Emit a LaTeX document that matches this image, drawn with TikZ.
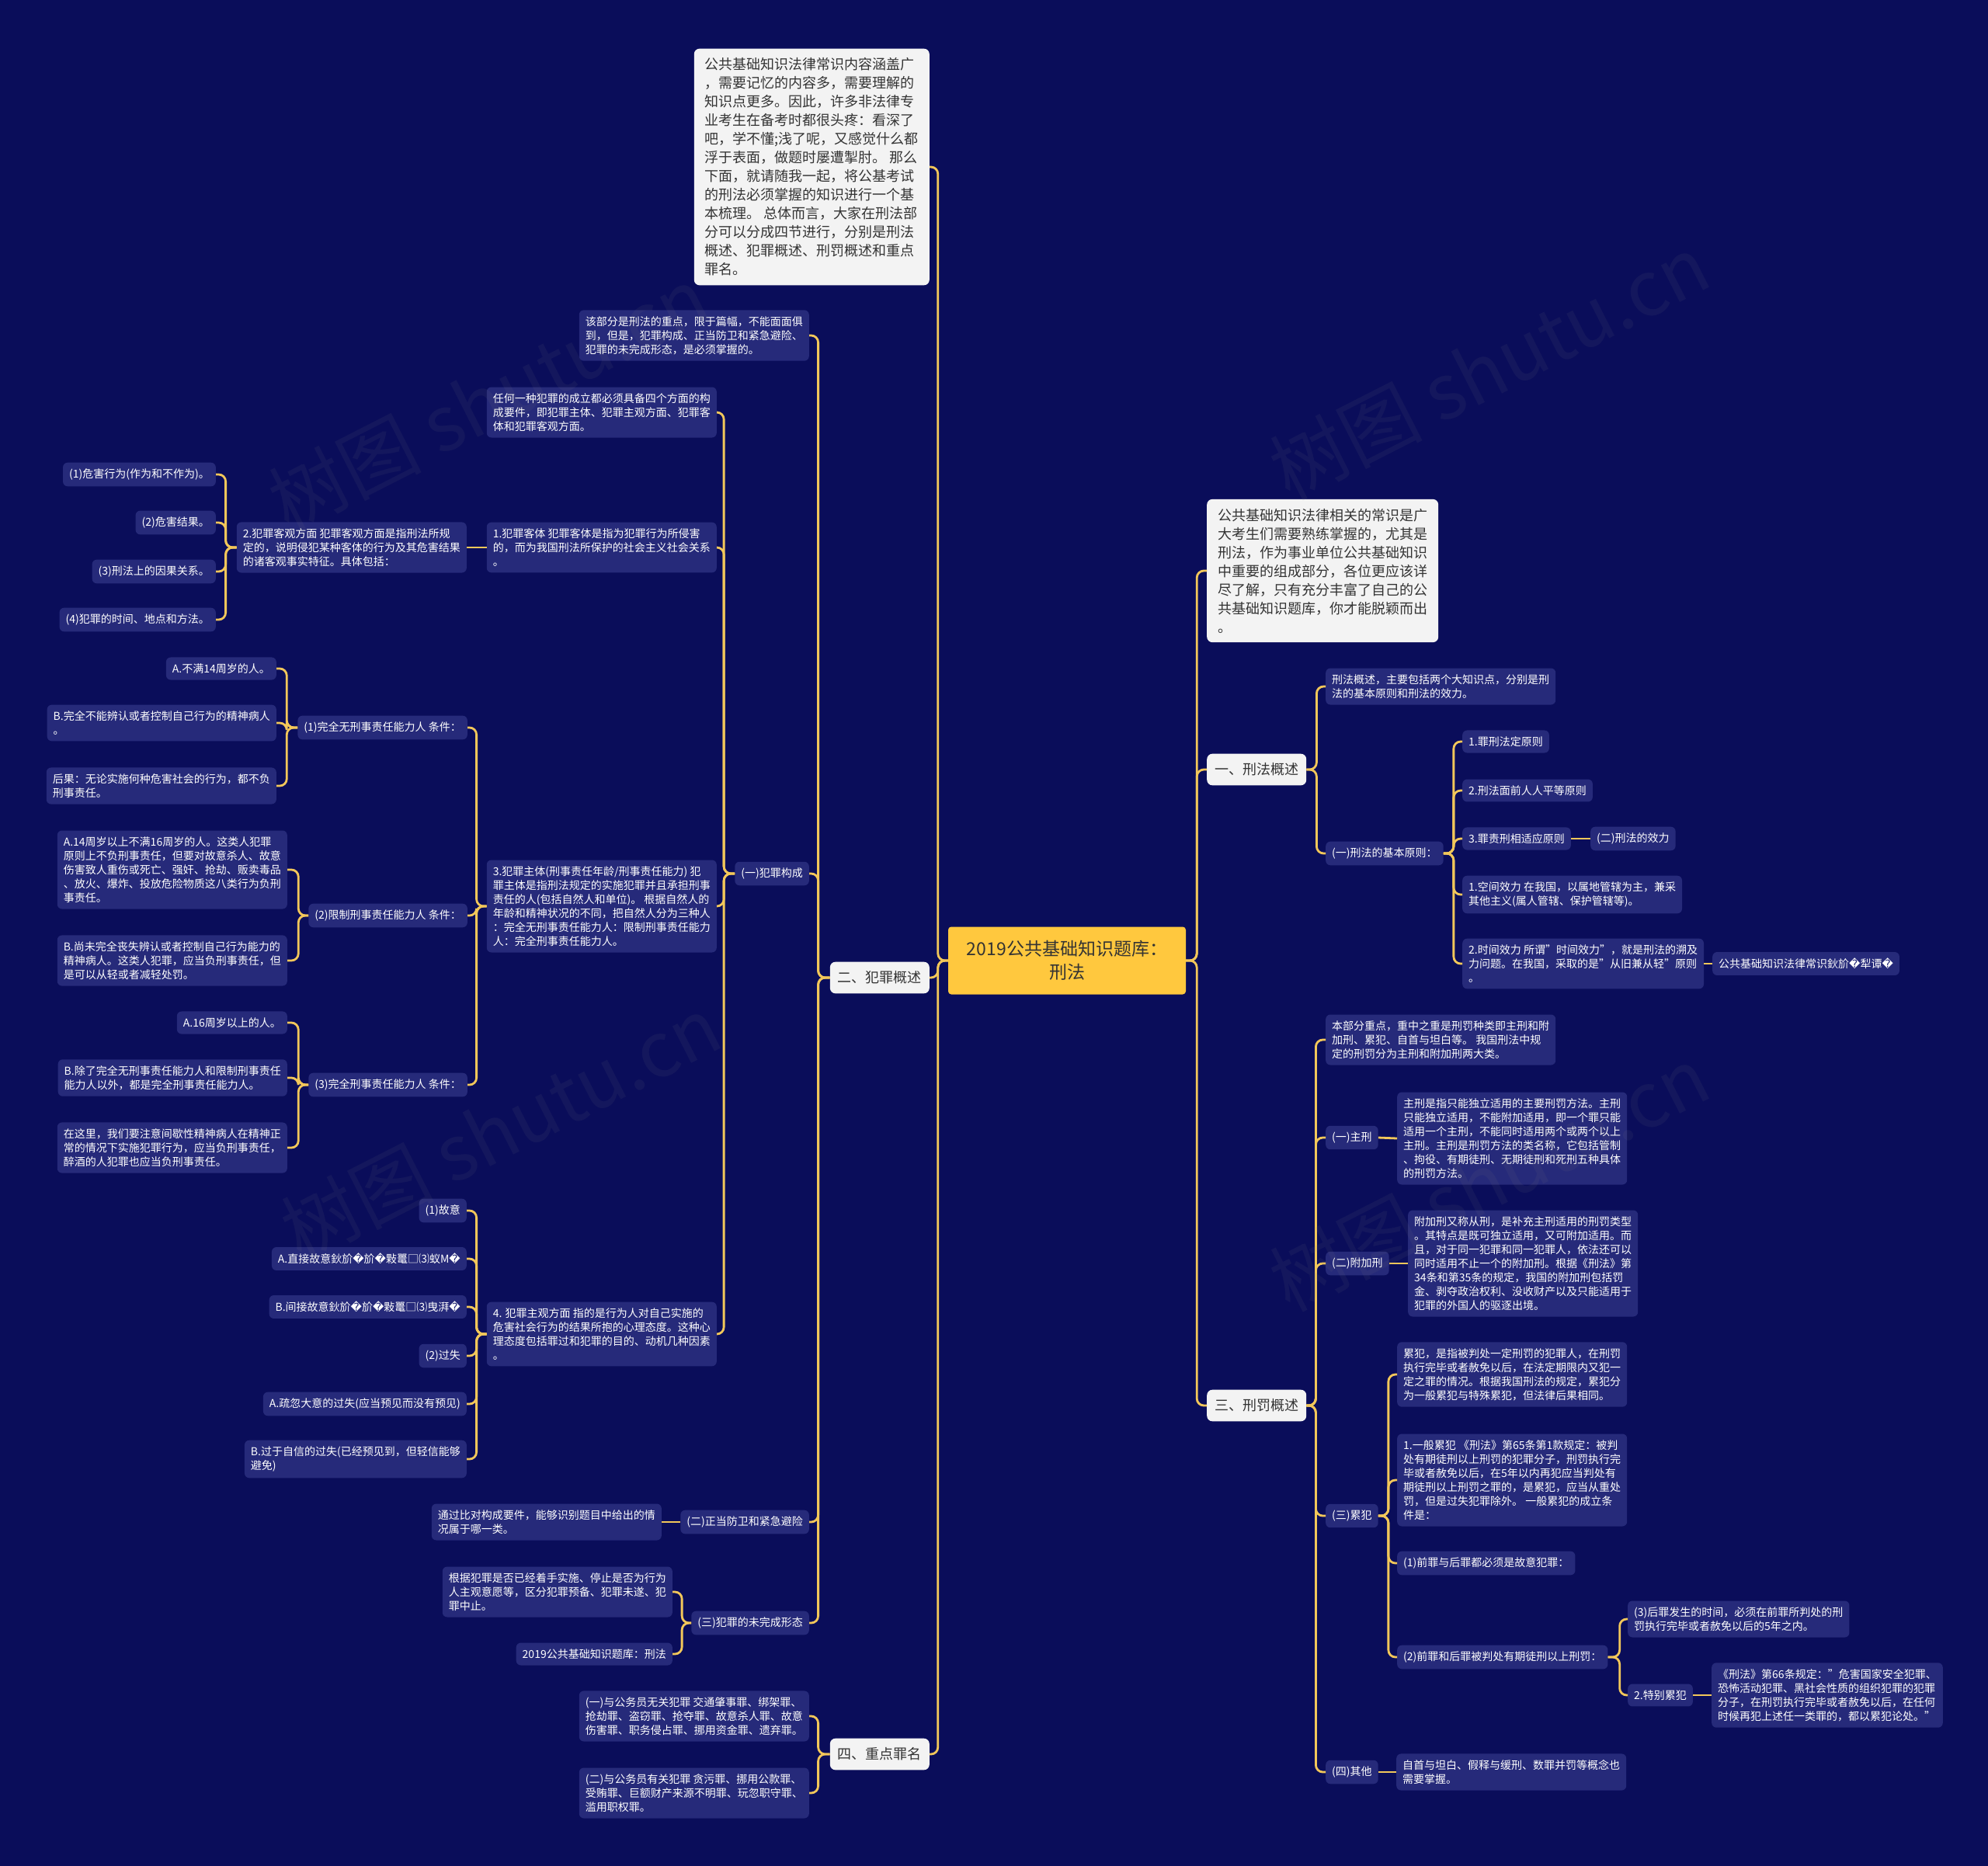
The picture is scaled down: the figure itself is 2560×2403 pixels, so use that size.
\documentclass[tikz,border=0pt]{standalone}
\usepackage{fontspec}
\setmainfont{Noto Sans CJK SC}
\newfontfamily\djv{DejaVu Sans}
\newcommand\rpl{{\djv\symbol{"FFFD}}}
\definecolor{bgc}{HTML}{0A0D5A}
\definecolor{nodebg}{HTML}{262A7A}
\definecolor{ltbg}{HTML}{F3F3F3}
\definecolor{txtdark}{HTML}{333333}
\definecolor{rootc}{HTML}{FFC83E}
\definecolor{linec}{HTML}{F2C75A}
\newcommand\smf{\fontsize{14}{18}\selectfont}
\newcommand\lgf{\fontsize{18}{24}\selectfont}
\newcommand\rtf{\fontsize{23}{30}\selectfont}
\newcommand\lcon[3]{\draw[conn] (#1.west) -- ++(-#3,0) |- (#2.east);}
\newcommand\rcon[3]{\draw[conn] (#1.east) -- ++(#3,0) |- (#2.west);}
\newcommand\scon[2]{\draw[conn] (#1) -- (#2);}
\tikzset{
  conn/.style={draw=linec, line width=2.8pt, rounded corners=9pt},
  dk/.style={fill=nodebg, rounded corners=6pt, text=white, font=\smf, align=left, inner xsep=8pt, inner ysep=8pt},
  lt/.style={fill=ltbg, rounded corners=7pt, text=txtdark, font=\lgf, align=left, inner xsep=14pt, inner ysep=12pt},
  mainbr/.style={fill=ltbg, rounded corners=7pt, text=txtdark, font=\lgf, inner xsep=10pt, inner ysep=12pt},
  rootn/.style={fill=rootc, rounded corners=4pt, text=txtdark, align=center, font=\rtf, minimum width=306pt, minimum height=87pt, inner sep=0pt},
  wm/.style={text=gray, opacity=0.09, font=\fontsize{98}{100}\selectfont, rotate=27}
}
\begin{document}
\begin{tikzpicture}[x=1pt,y=-1pt]
\fill[bgc] (0,0) rectangle (2560,2403);
\useasboundingbox (0,0) rectangle (2560,2403);

% root
\node[rootn] (root) at (1374,1237) {2019公共基础知识题库：\\刑法};

% ===== left side =====
\node[lt, anchor=east] (top) at (1197,215) {公共基础知识法律常识内容涵盖广\\，需要记忆的内容多，需要理解的\\知识点更多。因此，许多非法律专\\业考生在备考时都很头疼：看深了\\吧，学不懂;浅了呢，又感觉什么都\\浮于表面，做题时屡遭掣肘。 那么\\下面，就请随我一起，将公基考试\\的刑法必须掌握的知识进行一个基\\本梳理。 总体而言，大家在刑法部\\分可以分成四节进行，分别是刑法\\概述、犯罪概述、刑罚概述和重点\\罪名。};
\node[mainbr, anchor=east] (n2) at (1197,1259) {二、犯罪概述};
\node[mainbr, anchor=east] (n4) at (1197,2259) {四、重点罪名};

\node[dk, anchor=east] (a0) at (1042,432) {该部分是刑法的重点，限于篇幅，不能面面俱\\到，但是，犯罪构成、正当防卫和紧急避险、\\犯罪的未完成形态，是必须掌握的。};
\node[dk, anchor=east] (a1) at (1042,1125) {(一)犯罪构成};
\node[dk, anchor=east] (a2) at (1042,1960) {(二)正当防卫和紧急避险};
\node[dk, anchor=east] (a3) at (1042,2090) {(三)犯罪的未完成形态};

\node[dk, anchor=east] (b0) at (923,531) {任何一种犯罪的成立都必须具备四个方面的构\\成要件，即犯罪主体、犯罪主观方面、犯罪客\\体和犯罪客观方面。};
\node[dk, anchor=east] (b1) at (923,705) {1.犯罪客体 犯罪客体是指为犯罪行为所侵害\\的，而为我国刑法所保护的社会主义社会关系\\。};
\node[dk, anchor=east] (b2) at (923,1167) {3.犯罪主体(刑事责任年龄/刑事责任能力) 犯\\罪主体是指刑法规定的实施犯罪并且承担刑事\\责任的人(包括自然人和单位)。 根据自然人的\\年龄和精神状况的不同，把自然人分为三种人\\：完全无刑事责任能力人：限制刑事责任能力\\人：完全刑事责任能力人。};
\node[dk, anchor=east] (b3) at (923,1718) {4. 犯罪主观方面 指的是行为人对自己实施的\\危害社会行为的结果所抱的心理态度。这种心\\理态度包括罪过和犯罪的目的、动机几种因素\\。};

\node[dk, anchor=east] (c0) at (601,705) {2.犯罪客观方面 犯罪客观方面是指刑法所规\\定的，说明侵犯某种客体的行为及其危害结果\\的诸客观事实特征。具体包括：};
\node[dk, anchor=east] (c1) at (278,611) {(1)危害行为(作为和不作为)。};
\node[dk, anchor=east] (c2) at (278,673) {(2)危害结果。};
\node[dk, anchor=east] (c3) at (278,736) {(3)刑法上的因果关系。};
\node[dk, anchor=east] (c4) at (278,798) {(4)犯罪的时间、地点和方法。};

\node[dk, anchor=east] (d1) at (602,937) {(1)完全无刑事责任能力人 条件：};
\node[dk, anchor=east] (d2) at (602,1179) {(2)限制刑事责任能力人 条件：};
\node[dk, anchor=east] (d3) at (602,1397) {(3)完全刑事责任能力人 条件：};

\node[dk, anchor=east] (d1a) at (356,861) {A.不满14周岁的人。};
\node[dk, anchor=east] (d1b) at (356,931) {B.完全不能辨认或者控制自己行为的精神病人\\。};
\node[dk, anchor=east] (d1c) at (356,1012) {后果：无论实施何种危害社会的行为，都不负\\刑事责任。};

\node[dk, anchor=east] (d2a) at (370,1120) {A.14周岁以上不满16周岁的人。这类人犯罪\\原则上不负刑事责任，但要对故意杀人、故意\\伤害致人重伤或死亡、强奸、抢劫、贩卖毒品\\、放火、爆炸、投放危险物质这八类行为负刑\\事责任。};
\node[dk, anchor=east] (d2b) at (370,1237) {B.尚未完全丧失辨认或者控制自己行为能力的\\精神病人。这类人犯罪，应当负刑事责任，但\\是可以从轻或者减轻处罚。};

\node[dk, anchor=east] (d3a) at (370,1317) {A.16周岁以上的人。};
\node[dk, anchor=east] (d3b) at (370,1388) {B.除了完全无刑事责任能力人和限制刑事责任\\能力人以外，都是完全刑事责任能力人。};
\node[dk, anchor=east] (d3c) at (370,1478) {在这里，我们要注意间歇性精神病人在精神正\\常的情况下实施犯罪行为，应当负刑事责任，\\醉酒的人犯罪也应当负刑事责任。};

\node[dk, anchor=east] (e1) at (601,1559) {(1)故意};
\node[dk, anchor=east] (e2) at (601,1621) {A.直接故意鈥斺\rpl{}斺\rpl{}敤鼍□⑶蚁M\rpl{}};
\node[dk, anchor=east] (e3) at (601,1683) {B.间接故意鈥斺\rpl{}斺\rpl{}敤鼍□⑶曳湃\rpl{}};
\node[dk, anchor=east] (e4) at (601,1746) {(2)过失};
\node[dk, anchor=east] (e5) at (601,1808) {A.疏忽大意的过失(应当预见而没有预见)};
\node[dk, anchor=east] (e6) at (601,1879) {B.过于自信的过失(已经预见到，但轻信能够\\避免)};

\node[dk, anchor=east] (f1) at (852,1960) {通过比对构成要件，能够识别题目中给出的情\\况属于哪一类。};
\node[dk, anchor=east] (g1) at (866,2050) {根据犯罪是否已经着手实施、停止是否为行为\\人主观意愿等，区分犯罪预备、犯罪未遂、犯\\罪中止。};
\node[dk, anchor=east] (g2) at (866,2130) {2019公共基础知识题库：刑法};

\node[dk, anchor=east] (h1) at (1042,2210) {(一)与公务员无关犯罪 交通肇事罪、绑架罪、\\抢劫罪、盗窃罪、抢夺罪、故意杀人罪、故意\\伤害罪、职务侵占罪、挪用资金罪、遗弃罪。};
\node[dk, anchor=east] (h2) at (1042,2309) {(二)与公务员有关犯罪 贪污罪、挪用公款罪、\\受贿罪、巨额财产来源不明罪、玩忽职守罪、\\滥用职权罪。};

% ===== right side =====
\node[lt, anchor=west] (rtop) at (1554,735) {公共基础知识法律相关的常识是广\\大考生们需要熟练掌握的，尤其是\\刑法，作为事业单位公共基础知识\\中重要的组成部分，各位更应该详\\尽了解，只有充分丰富了自己的公\\共基础知识题库，你才能脱颖而出\\。};
\node[mainbr, anchor=west] (r1) at (1554,991) {一、刑法概述};
\node[mainbr, anchor=west] (r3) at (1554,1810) {三、刑罚概述};

\node[dk, anchor=west] (s0) at (1707,884) {刑法概述，主要包括两个大知识点，分别是刑\\法的基本原则和刑法的效力。};
\node[dk, anchor=west] (s1) at (1707,1099) {(一)刑法的基本原则：};

\node[dk, anchor=west] (t1) at (1883,955) {1.罪刑法定原则};
\node[dk, anchor=west] (t2) at (1883,1018) {2.刑法面前人人平等原则};
\node[dk, anchor=west] (t3) at (1883,1080) {3.罪责刑相适应原则};
\node[dk, anchor=west] (t4) at (2048,1080) {(二)刑法的效力};
\node[dk, anchor=west] (t5) at (1883,1152) {1.空间效力 在我国，以属地管辖为主，兼采\\其他主义(属人管辖、保护管辖等)。};
\node[dk, anchor=west] (t6) at (1883,1241) {2.时间效力 所谓"时间效力"，就是刑法的溯及\\力问题。在我国，采取的是"从旧兼从轻"原则\\。};
\node[dk, anchor=west] (t7) at (2205,1241) {公共基础知识法律常识鈥斺\rpl{}犁谭\rpl{}};

\node[dk, anchor=west] (u0) at (1707,1339) {本部分重点，重中之重是刑罚种类即主刑和附\\加刑、累犯、自首与坦白等。 我国刑法中规\\定的刑罚分为主刑和附加刑两大类。};
\node[dk, anchor=west] (u1) at (1707,1465) {(一)主刑};
\node[dk, anchor=west] (u1a) at (1799,1466) {主刑是指只能独立适用的主要刑罚方法。主刑\\只能独立适用，不能附加适用，即一个罪只能\\适用一个主刑，不能同时适用两个或两个以上\\主刑。主刑是刑罚方法的类名称，它包括管制\\、拘役、有期徒刑、无期徒刑和死刑五种具体\\的刑罚方法。};
\node[dk, anchor=west] (u2) at (1707,1627) {(二)附加刑};
\node[dk, anchor=west] (u2a) at (1813,1627) {附加刑又称从刑，是补充主刑适用的刑罚类型\\。其特点是既可独立适用，又可附加适用。而\\且，对于同一犯罪和同一犯罪人，依法还可以\\同时适用不止一个的附加刑。根据《刑法》第\\34条和第35条的规定，我国的附加刑包括罚\\金、剥夺政治权利、没收财产以及只能适用于\\犯罪的外国人的驱逐出境。};
\node[dk, anchor=west] (u3) at (1707,1952) {(三)累犯};
\node[dk, anchor=west] (v1) at (1799,1770) {累犯，是指被判处一定刑罚的犯罪人，在刑罚\\执行完毕或者赦免以后，在法定期限内又犯一\\定之罪的情况。根据我国刑法的规定，累犯分\\为一般累犯与特殊累犯，但法律后果相同。};
\node[dk, anchor=west] (v2) at (1799,1906) {1.一般累犯 《刑法》第65条第1款规定：被判\\处有期徒刑以上刑罚的犯罪分子，刑罚执行完\\毕或者赦免以后，在5年以内再犯应当判处有\\期徒刑以上刑罚之罪的，是累犯，应当从重处\\罚，但是过失犯罪除外。 一般累犯的成立条\\件是：};
\node[dk, anchor=west] (v3) at (1799,2013) {(1)前罪与后罪都必须是故意犯罪：};
\node[dk, anchor=west] (v4) at (1799,2134) {(2)前罪和后罪被判处有期徒刑以上刑罚：};
\node[dk, anchor=west] (w1) at (2096,2085) {(3)后罪发生的时间，必须在前罪所判处的刑\\罚执行完毕或者赦免以后的5年之内。};
\node[dk, anchor=west] (w2) at (2096,2183) {2.特别累犯};
\node[dk, anchor=west] (w3) at (2204,2183) {《刑法》第66条规定："危害国家安全犯罪、\\恐怖活动犯罪、黑社会性质的组织犯罪的犯罪\\分子，在刑罚执行完毕或者赦免以后，在任何\\时候再犯上述任一类罪的，都以累犯论处。"};
\node[dk, anchor=west] (u4) at (1707,2282) {(四)其他};
\node[dk, anchor=west] (u4a) at (1798,2282) {自首与坦白、假释与缓刑、数罪并罚等概念也\\需要掌握。};

% ===== connectors =====
\foreach \c in {top,n2,n4} {\draw[conn] (root.west) -- ++(-13,0) |- (\c.east);}
\foreach \c in {rtop,r1,r3} {\draw[conn] (root.east) -- ++(14,0) |- (\c.west);}

\foreach \c in {a0,a1,a2,a3} {\lcon{n2}{\c}{15}}
\foreach \c in {b0,b1,b2,b3} {\lcon{a1}{\c}{14}}
\scon{b1.west}{c0.east}
\foreach \c in {c1,c2,c3,c4} {\lcon{c0}{\c}{14}}
\foreach \c in {d1,d2,d3} {\lcon{b2}{\c}{13}}
\foreach \c in {d1a,d1b,d1c} {\lcon{d1}{\c}{14}}
\foreach \c in {d2a,d2b} {\lcon{d2}{\c}{13}}
\foreach \c in {d3a,d3b,d3c} {\lcon{d3}{\c}{13}}
\foreach \c in {e1,e2,e3,e4,e5,e6} {\lcon{b3}{\c}{13}}
\scon{a2.west}{f1.east}
\foreach \c in {g1,g2} {\lcon{a3}{\c}{12}}
\foreach \c in {h1,h2} {\lcon{n4}{\c}{15}}

\foreach \c in {s0,s1} {\rcon{r1}{\c}{13}}
\foreach \c in {t1,t2,t3,t5,t6} {\rcon{s1}{\c}{13}}
\scon{t3.east}{t4.west}
\scon{t6.east}{t7.west}
\foreach \c in {u0,u1,u2,u3,u4} {\rcon{r3}{\c}{12}}
\scon{u1.east}{u1a.west}
\scon{u2.east}{u2a.west}
\scon{u4.east}{u4a.west}
\foreach \c in {v1,v2,v3,v4} {\rcon{u3}{\c}{13}}
\foreach \c in {w1,w2} {\rcon{v4}{\c}{15}}
\scon{w2.east}{w3.west}

% watermarks
\node[wm] (wm1) at (629,514) {树图 shutu.cn};
\node[wm] (wm2) at (1918,473) {树图 shutu.cn};
\node[wm] (wm3) at (645,1453) {树图 shutu.cn};
\node[wm] (wm4) at (1918,1518) {树图 shutu.cn};
\end{tikzpicture}
\end{document}
